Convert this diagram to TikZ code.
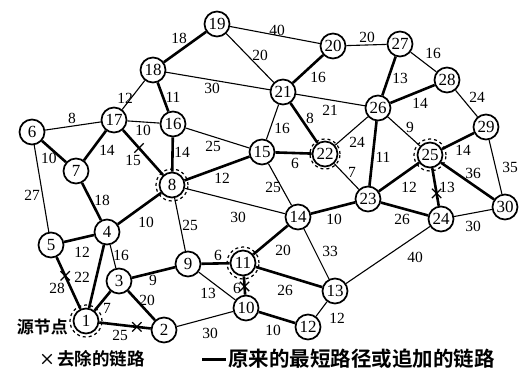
\documentclass[tikz,border=0pt]{standalone}
\usepackage{fontspec}
\setmainfont{Liberation Serif}
\newfontfamily\cjk{Noto Sans CJK SC}[BoldFont={* Bold}]
\usetikzlibrary{shapes.misc}
\newcommand\E[6]{\draw[#3] (n#1) -- (n#2); \node[lab] (w#1-#2) at (#5,#6) {#4};}
\newcommand\X[3]{\path (n#1) -- node[pos=#3, xmark] (x#1-#2) {} (n#2);}
\begin{document}
\begin{tikzpicture}[x=1pt,y=-1pt,
  nd/.style={circle, draw, line width=1.7pt, minimum size=25pt, inner sep=0pt, font=\fontsize{17}{17}\selectfont},
  lab/.style={inner sep=0pt, font=\fontsize{15.5}{15.5}\selectfont},
  thk/.style={line width=2.6pt},
  thn/.style={line width=1.1pt},
  xmark/.style={cross out, draw, line width=1.3pt, minimum size=8pt, inner sep=0pt},
  ring/.style={dashed, line width=1.2pt}]
\useasboundingbox (0,0) rectangle (523,383);
% nodes
\node[nd] (n1) at (86,321) {1};
\node[nd] (n2) at (164,330) {2};
\node[nd] (n3) at (119,281) {3};
\node[nd] (n4) at (107,232) {4};
\node[nd] (n5) at (51,245) {5};
\node[nd] (n6) at (32,132) {6};
\node[nd] (n7) at (76,171) {7};
\node[nd] (n8) at (172,185) {8};
\node[nd] (n9) at (188,264) {9};
\node[nd] (n10) at (246,308) {10};
\node[nd] (n11) at (243,263) {11};
\node[nd] (n12) at (308,327) {12};
\node[nd] (n13) at (335,291) {13};
\node[nd] (n14) at (298,217) {14};
\node[nd] (n15) at (262,152) {15};
\node[nd] (n16) at (173,124) {16};
\node[nd] (n17) at (114,120) {17};
\node[nd] (n18) at (153,70) {18};
\node[nd] (n19) at (217,24) {19};
\node[nd] (n20) at (333,46) {20};
\node[nd] (n21) at (283,92) {21};
\node[nd] (n22) at (325,154) {22};
\node[nd] (n23) at (368,199) {23};
\node[nd] (n24) at (441,219) {24};
\node[nd] (n25) at (430,155) {25};
\node[nd] (n26) at (378,108) {26};
\node[nd] (n27) at (400,44) {27};
\node[nd] (n28) at (447,80) {28};
\node[nd] (n29) at (486,127) {29};
\node[nd] (n30) at (505,207) {30};
% dashed rings
\draw[ring] (n1) circle (16pt);
\draw[ring] (n8) circle (16pt);
\draw[ring] (n11) circle (16pt);
\draw[ring] (n22) circle (15pt);
\draw[ring] (n25) circle (16pt);
% edges
\E{1}{2}{thk}{25}{120}{335}
\E{1}{3}{thk}{7}{107}{308}
\E{1}{4}{thk}{22}{82}{277}
\E{1}{5}{thk}{28}{57}{288}
\E{3}{4}{thn}{16}{121}{255}
\E{3}{9}{thk}{9}{153}{280}
\E{3}{2}{thk}{20}{147}{300}
\E{4}{5}{thk}{12}{82}{252}
\E{4}{7}{thk}{18}{102}{200}
\E{4}{8}{thk}{10}{146}{222}
\E{5}{6}{thn}{27}{32}{195}
\E{6}{7}{thk}{10}{49}{158}
\E{6}{17}{thn}{8}{72}{118}
\E{7}{17}{thk}{14}{107}{150}
\E{17}{8}{thk}{15}{133}{160}
\E{17}{16}{thn}{10}{143}{130}
\E{17}{18}{thn}{12}{125}{98}
\E{16}{18}{thk}{11}{173}{97}
\E{16}{8}{thk}{14}{182}{152}
\E{16}{15}{thn}{25}{213}{146}
\E{18}{19}{thk}{18}{179}{38}
\E{18}{21}{thn}{30}{212}{88}
\E{19}{20}{thn}{40}{277}{30}
\E{19}{21}{thn}{20}{260}{55}
\E{20}{21}{thk}{16}{318}{77}
\E{20}{27}{thn}{20}{367}{37}
\E{21}{26}{thn}{21}{330}{110}
\E{21}{22}{thk}{8}{310}{118}
\E{21}{15}{thn}{16}{282}{128}
\E{15}{22}{thk}{6}{295}{163}
\E{15}{8}{thk}{12}{222}{178}
\E{15}{14}{thn}{25}{273}{187}
\E{8}{14}{thn}{30}{238}{217}
\E{8}{9}{thn}{25}{190}{225}
\E{22}{26}{thn}{24}{357}{142}
\E{22}{23}{thn}{7}{352}{172}
\E{23}{26}{thk}{11}{383}{157}
\E{26}{27}{thk}{13}{400}{78}
\E{26}{28}{thk}{14}{420}{103}
\E{26}{25}{thn}{9}{410}{127}
\E{27}{28}{thn}{16}{433}{53}
\E{28}{29}{thn}{24}{477}{97}
\E{29}{25}{thk}{14}{463}{150}
\E{29}{30}{thn}{35}{510}{167}
\E{25}{30}{thk}{36}{473}{173}
\E{25}{23}{thk}{12}{409}{187}
\E{25}{24}{thk}{13}{447}{187}
\E{23}{24}{thk}{26}{402}{219}
\E{24}{30}{thn}{30}{473}{226}
\E{24}{13}{thn}{40}{415}{257}
\E{23}{14}{thk}{10}{334}{219}
\E{14}{11}{thk}{20}{283}{250}
\E{14}{13}{thn}{33}{330}{251}
\E{9}{11}{thk}{6}{218}{255}
\E{9}{10}{thn}{13}{208}{293}
\E{11}{10}{thk}{6}{237}{288}
\E{11}{13}{thk}{26}{285}{290}
\E{10}{12}{thk}{10}{273}{330}
\E{10}{2}{thn}{30}{210}{333}
\E{12}{13}{thn}{12}{337}{318}
% removed links
\X{1}{2}{0.73}
\X{1}{5}{0.64}
\X{17}{8}{0.40}
\X{25}{24}{0.67}
\X{11}{10}{0.55}
% source label
\node[anchor=east, inner sep=0pt, font=\cjk\bfseries\fontsize{17}{17}\selectfont] (src) at (68,327) {源节点};
% legend
\node[xmark] (lgx) at (47,359) {};
\node[anchor=west, inner sep=0pt, font=\cjk\bfseries\fontsize{17.5}{17.5}\selectfont] (lgt1) at (57,359) {去除的链路};
\coordinate (lga) at (202,359);
\coordinate (lgb) at (226,359);
\draw[line width=3pt] (lga) -- (lgb);
\node[anchor=west, inner sep=0pt, font=\cjk\bfseries\fontsize{20.5}{20.5}\selectfont] (lgt2) at (228,359) {原来的最短路径或追加的链路};
\end{tikzpicture}
\end{document}
